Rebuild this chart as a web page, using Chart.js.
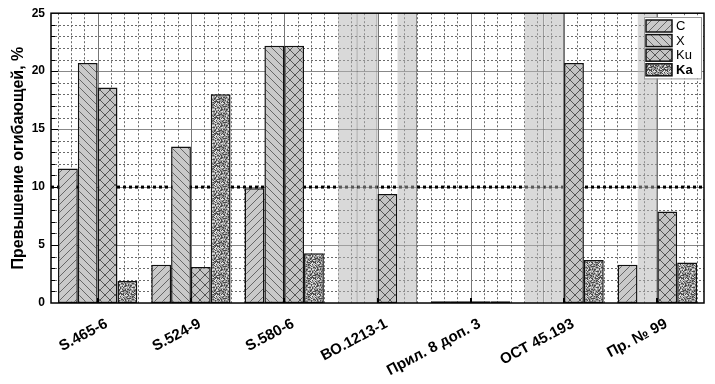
<!DOCTYPE html>
<html>
<head>
<meta charset="utf-8">
<script src="https://cdn.jsdelivr.net/npm/chart.js@4.4.1/dist/chart.umd.min.js"></script>
<style>
  html, body { margin: 0; padding: 0; background: #fff; }
  #wrap { width: 715px; height: 384px; position: relative; }
</style>
</head>
<body>
<div id="wrap"><canvas id="c"></canvas></div>
<script>
(function(){

    "use strict"

    // data
    const categories = ["S.465-6", "S.524-9", "S.580-6", "ВО.1213-1", "Прил. 8 доп. 3", "ОСТ 45.193", "Пр. № 99"];
    const seriesNames = ["C", "X", "Ku", "Ka"];
    const valuesC  = [11.6, 3.3, 9.9, null, 0.15, null, 3.3];
    const valuesX  = [20.7, 13.5, 22.2, null, 0.15, null, null];
    const valuesKu = [18.6, 3.1, 22.2, 9.4, 0.15, 20.7, 7.9];
    const valuesKa = [1.9, 18.0, 4.3, null, 0.15, 3.7, 3.5];
    const yTicks = [0, 5, 10, 15, 20, 25];
    const limitValue = 10; // dotted reference line
    const yMax = 25;

    // fill patterns for the bars
    function makeTile(size, draw) {
        const cv = document.createElement("canvas");
        cv.width = size;
        cv.height = size;
        const g = cv.getContext("2d");
        draw(g, size);
        return document.getElementById("c").getContext("2d").createPattern(cv, "repeat");
    }

    function hatchTile(dir) {
        return makeTile(8, function(g, s) {
            g.fillStyle = "#c9c9c9";
            g.fillRect(0, 0, s, s);
            g.strokeStyle = "#666";
            g.lineWidth = 1;
            g.beginPath();
            if (dir > 0) {
                g.moveTo(-1, s + 1); g.lineTo(s + 1, -1);
                g.moveTo(-1, 1); g.lineTo(1, -1);
                g.moveTo(s - 1, s + 1); g.lineTo(s + 1, s - 1);
            } else {
                g.moveTo(-1, -1); g.lineTo(s + 1, s + 1);
                g.moveTo(s - 1, -1); g.lineTo(s + 1, 1);
                g.moveTo(-1, s - 1); g.lineTo(1, s + 1);
            }
            g.stroke();
        });
    }

    const crossTile = makeTile(10, function(g, s) {
        g.fillStyle = "#c4c4c4";
        g.fillRect(0, 0, s, s);
        g.strokeStyle = "#555";
        g.lineWidth = 1;
        g.beginPath();
        g.moveTo(0, 0); g.lineTo(s, s);
        g.moveTo(0, s); g.lineTo(s, 0);
        g.stroke();
    });

    // speckled texture, fixed hash so it looks the same every time
    const speckTile = makeTile(16, function(g, s) {
        g.fillStyle = "#9c9c9c";
        g.fillRect(0, 0, s, s);
        for (let i = 0; i < s; i++) {
            for (let j = 0; j < s; j++) {
                const h = ((i * 73856093) ^ (j * 19349663) ^ 83492791) >>> 0;
                const r = (h % 101) / 101;
                if (r < 0.28) { g.fillStyle = "#4a4a4a"; g.fillRect(i, j, 1, 1); }
                else if (r > 0.8) { g.fillStyle = "#dedede"; g.fillRect(i, j, 1, 1); }
            }
        }
    });

    const patterns = [hatchTile(1), hatchTile(-1), crossTile, speckTile];
    const seriesValues = [valuesC, valuesX, valuesKu, valuesKa];

    // one stack per series: the bar itself and a grey band where there is no value
    const datasets = [];
    seriesNames.forEach(function(name, i) {
        datasets.push({
            label: name,
            data: seriesValues[i],
            stack: name,
            backgroundColor: patterns[i],
            borderColor: "#111",
            borderWidth: 1.5,
            borderSkipped: false
        });
        datasets.push({
            label: name + "-na",
            data: seriesValues[i].map(v => v === null ? yMax : null),
            stack: name,
            backgroundColor: "rgba(180,180,180,0.5)",
            borderColor: "#7a7a7a",
            borderWidth: {top: 0, left: 0, bottom: 0, right: 1},
            borderSkipped: false,
            inflateAmount: 0
        });
    });

    function px(v) { return Math.round(v) + 0.5; }

    // paper grid, reference line, frame, ticks, legend, y title
    const paperPlugin = {
        id: "paper",
        beforeDatasetsDraw(chart) {
            const ctx = chart.ctx;
            const a = chart.chartArea;
            const x = chart.scales.x, y = chart.scales.y;
            ctx.save();
            ctx.fillStyle = "#fff";
            ctx.fillRect(a.left, a.top, a.right - a.left, a.bottom - a.top);
            ctx.lineWidth = 1;
            // horizontal lines every unit
            for (let v = 1; v < yMax; v++) {
                const py = px(y.getPixelForValue(v));
                ctx.beginPath();
                if (v % 5 === 0) { ctx.setLineDash([]); ctx.strokeStyle = "#888"; }
                else { ctx.setLineDash([2, 2]); ctx.strokeStyle = "#6a6a6a"; }
                ctx.moveTo(a.left, py);
                ctx.lineTo(a.right, py);
                ctx.stroke();
            }
            // vertical lines, 7 per category
            const step = (x.getPixelForValue(1) - x.getPixelForValue(0)) / 7;
            categories.forEach(function(c, i) {
                const cx = x.getPixelForValue(i);
                for (let k = -3; k <= 3; k++) {
                    const pxx = px(cx + k * step);
                    ctx.beginPath();
                    if (k === 0) { ctx.setLineDash([]); ctx.strokeStyle = "#777"; }
                    else { ctx.setLineDash([2, 2]); ctx.strokeStyle = "#6a6a6a"; }
                    ctx.moveTo(pxx, a.top);
                    ctx.lineTo(pxx, a.bottom);
                    ctx.stroke();
                }
            });
            // dotted limit line
            const ly = y.getPixelForValue(limitValue);
            ctx.setLineDash([3, 3]);
            ctx.strokeStyle = "#000";
            ctx.lineWidth = 3;
            ctx.beginPath();
            ctx.moveTo(a.left, ly);
            ctx.lineTo(a.right, ly);
            ctx.stroke();
            ctx.restore();
        },
        afterDatasetsDraw(chart) {
            const ctx = chart.ctx;
            const a = chart.chartArea;
            const x = chart.scales.x, y = chart.scales.y;
            ctx.save();
            ctx.strokeStyle = "#000";
            ctx.lineWidth = 1.5;
            ctx.strokeRect(a.left, a.top, a.right - a.left, a.bottom - a.top);
            // y ticks pointing inwards
            ctx.lineWidth = 1;
            for (let v = 1; v < yMax; v++) {
                const py = px(y.getPixelForValue(v));
                ctx.beginPath();
                ctx.moveTo(a.left, py);
                ctx.lineTo(a.left + (v % 5 === 0 ? 7 : 4), py);
                ctx.stroke();
            }
            // x ticks at category centres
            ctx.lineWidth = 2;
            categories.forEach(function(c, i) {
                const cx = Math.round(x.getPixelForValue(i));
                ctx.beginPath();
                ctx.moveTo(cx, a.bottom);
                ctx.lineTo(cx, a.bottom - 5);
                ctx.stroke();
            });

            // legend box
            const lx = 644, ly = 17, lw = 57, rowH = 14.6;
            ctx.fillStyle = "#fff";
            ctx.fillRect(lx, ly, lw, rowH * 4 + 3);
            ctx.lineWidth = 1;
            ctx.strokeStyle = "#999";
            ctx.strokeRect(lx + 0.5, ly + 0.5, lw, rowH * 4 + 3);
            seriesNames.forEach(function(name, i) {
                const top = ly + 3 + i * rowH;
                ctx.fillStyle = patterns[i];
                ctx.fillRect(lx + 2, top, 26, 12);
                ctx.strokeStyle = "#111";
                ctx.lineWidth = 1.5;
                ctx.strokeRect(lx + 2, top, 26, 12);
                ctx.fillStyle = "#000";
                ctx.font = (name === "Ka" ? "bold " : "") + "13px 'Liberation Sans', Arial, sans-serif";
                ctx.textBaseline = "middle";
                ctx.textAlign = "left";
                ctx.fillText(name, lx + 32, top + 6.5);
            });
            ctx.restore();
        },
        afterDraw(chart) {
            const ctx = chart.ctx;
            const a = chart.chartArea;
            ctx.save();
            ctx.translate(19, (a.top + a.bottom) / 2);
            ctx.rotate(-Math.PI / 2);
            ctx.font = "bold 16px 'Liberation Sans', Arial, sans-serif";
            ctx.fillStyle = "#000";
            ctx.textAlign = "center";
            ctx.textBaseline = "middle";
            ctx.fillText("Превышение огибающей, %", 0, 0);
            ctx.restore();
        }
    };

    Chart.defaults.font.family = "'Liberation Sans', Arial, sans-serif";
    Chart.defaults.color = "#000";

    new Chart(document.getElementById("c"), {
        type: "bar",
        data: {
            labels: categories,
            datasets: datasets
        },
        options: {
            responsive: true,
            maintainAspectRatio: false,
            animation: false,
            layout: { padding: { top: 12, right: 11, left: 0, bottom: 0 } },
            categoryPercentage: 0.85,
            barPercentage: 1,
            plugins: {
                legend: { display: false },
                tooltip: { enabled: false }
            },
            scales: {
                x: {
                    stacked: true,
                    grid: { display: false, drawTicks: false },
                    border: { display: false },
                    ticks: {
                        font: { size: 15, weight: "bold" },
                        minRotation: 28,
                        maxRotation: 28,
                        padding: 12,
                        labelOffset: 9
                    },
                    afterFit: function(scale) { scale.height = 81; }
                },
                y: {
                    stacked: true,
                    min: 0,
                    max: yMax,
                    grid: { display: false, drawTicks: false },
                    border: { display: false },
                    afterBuildTicks: function(scale) {
                        scale.ticks = yTicks.map(v => ({ value: v }));
                    },
                    ticks: {
                        font: { size: 12, weight: "bold" },
                        padding: 6
                    },
                    afterFit: function(scale) { scale.width = 51; }
                }
            }
        },
        plugins: [paperPlugin]
    });

}());
</script>
</body>
</html>
